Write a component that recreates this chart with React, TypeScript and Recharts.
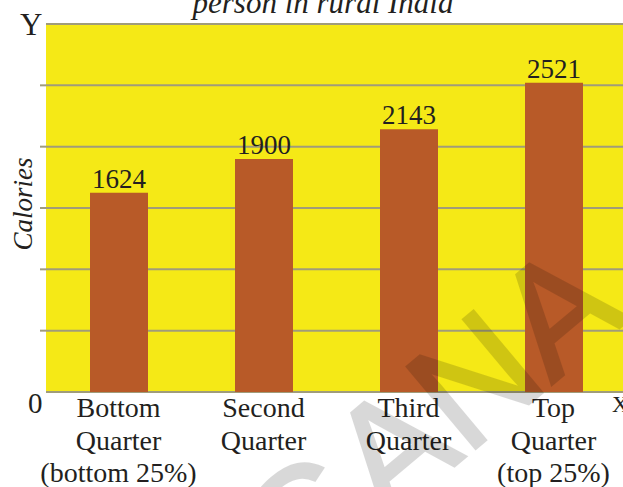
import { BarChart, Bar, XAxis, YAxis, CartesianGrid, LabelList } from 'recharts';

// calorie intake per person, rural India, by expenditure quarter
const quarters = ['Bottom Quarter', 'Second Quarter', 'Third Quarter', 'Top Quarter'];
const tickLines = [
  ['Bottom', 'Quarter', '(bottom 25%)'],
  ['Second', 'Quarter'],
  ['Third', 'Quarter'],
  ['Top', 'Quarter', '(top 25%)'],
];
const calories = [1624, 1900, 2143, 2521];
const yTicks = [500, 1000, 1500, 2000, 2500];

const rows = quarters.map((q, i) => ({ name: q, value: calories[i] }));

const SERIF = '"Liberation Serif", "Times New Roman", serif';
const INK = '#231f20';
const YELLOW = '#f5e916';
const BRICK = '#b85a28';
const GRID = '#a09c7a';

const QuarterTick = ({ x, y, payload, index }: any) => {
  const lines = tickLines[index] ?? [payload.value];
  return (
    <text x={x} y={y + 17} textAnchor="middle" fontFamily={SERIF} fontSize={28} fill={INK}>
      {lines.map((l: string, i: number) => (
        <tspan key={i} x={x} dy={i === 0 ? 0 : 32.5}>
          {l}
        </tspan>
      ))}
    </text>
  );
};

// y values are not printed, only the short tick stubs left of the plot
const NoLabel = () => <g />;

export default function App() {
  return (
    <div
      style={{
        position: 'absolute',
        left: 0,
        top: 0,
        width: 623,
        height: 487,
        overflow: 'hidden',
        background: '#fff',
      }}
    >
      <BarChart width={630} height={487} data={rows} margin={{ top: 24, right: 4, bottom: 0, left: 0 }}>
        <CartesianGrid vertical={false} fill={YELLOW} fillOpacity={1} stroke={GRID} strokeWidth={2} />
        <YAxis
          width={46}
          domain={[0, 3000]}
          ticks={yTicks}
          tick={<NoLabel />}
          axisLine={false}
          tickSize={6}
          tickLine={{ stroke: GRID, strokeWidth: 2 }}
        />
        <XAxis
          dataKey="name"
          height={95}
          axisLine={false}
          tickLine={false}
          interval={0}
          tick={<QuarterTick />}
        />
        <Bar dataKey="value" fill={BRICK} barSize={58} isAnimationActive={false}>
          <LabelList
            dataKey="value"
            position="top"
            offset={5}
            fontFamily={SERIF}
            fontSize={27}
            fill={INK}
          />
        </Bar>
      </BarChart>

      <svg
        width={623}
        height={487}
        style={{ position: 'absolute', left: 0, top: 0, pointerEvents: 'none' }}
      >
        <text x={323} y={13} textAnchor="middle" fontFamily={SERIF} fontStyle="italic" fontSize={31} fill={INK}>
          person in rural India
        </text>
        <text x={20} y={35} fontFamily={SERIF} fontSize={31} fill={INK}>
          Y
        </text>
        <text x={28} y={413} fontFamily={SERIF} fontSize={29} fill={INK}>
          0
        </text>
        <text x={612} y={412} fontFamily={SERIF} fontSize={23} fill={INK}>
          X
        </text>
        <text
          x={32}
          y={204}
          textAnchor="middle"
          transform="rotate(-90, 32, 204)"
          fontFamily={SERIF}
          fontStyle="italic"
          fontSize={27}
          fill={INK}
        >
          Calories
        </text>
        <g opacity={0.15}>
          <text
            x={631}
            y={318}
            textAnchor="end"
            transform="rotate(-40, 631, 318)"
            fontFamily='"Liberation Sans", Arial, sans-serif'
            fontSize={155}
            fill="#000"
            stroke="#000"
            strokeWidth={3}
          >
            TELANGANA
          </text>
        </g>
      </svg>
    </div>
  );
}
